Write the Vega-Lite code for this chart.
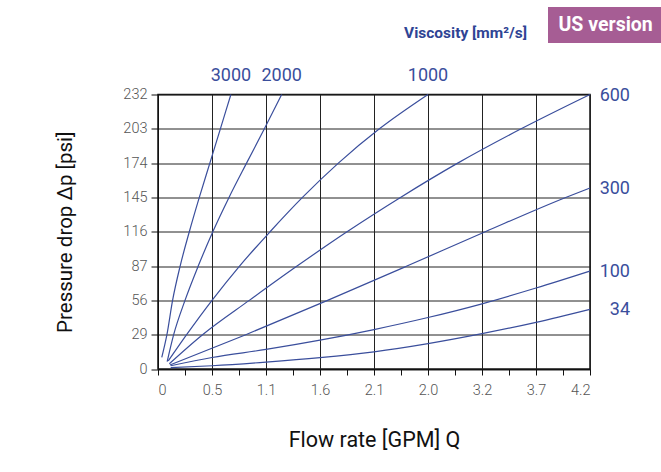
{
  "$schema": "https://vega.github.io/schema/vega-lite/v6.json",
  "width": 432,
  "height": 274.5,
  "autosize": {"type": "none"},
  "padding": {"left": 158, "top": 94.5, "right": 71, "bottom": 103},
  "background": "white",
  "title": {
    "text": "Viscosity [mm²/s]",
    "anchor": "end",
    "frame": "group",
    "dx": -63,
    "dy": 34,
    "offset": 0,
    "font": "Roboto",
    "fontSize": 15.5,
    "fontWeight": "bold",
    "color": "#2f4494"
  },
  "datasets": {
    "curves": [
      {"visc": 3000, "q": 0.14, "p": 0.68},
      {"visc": 3000, "q": 0.33, "p": 2},
      {"visc": 3000, "q": 0.54, "p": 4},
      {"visc": 3000, "q": 0.82, "p": 6},
      {"visc": 3000, "q": 1.16, "p": 8},
      {"visc": 3000, "q": 1.53, "p": 10},
      {"visc": 3000, "q": 1.92, "p": 12},
      {"visc": 3000, "q": 2.31, "p": 14},
      {"visc": 3000, "q": 2.70, "p": 16},
      {"visc": 2000, "q": 0.34, "p": 0.43},
      {"visc": 2000, "q": 0.58, "p": 2},
      {"visc": 2000, "q": 1.0, "p": 4},
      {"visc": 2000, "q": 1.49, "p": 6},
      {"visc": 2000, "q": 2.03, "p": 8},
      {"visc": 2000, "q": 2.63, "p": 10},
      {"visc": 2000, "q": 3.28, "p": 12},
      {"visc": 2000, "q": 3.94, "p": 14},
      {"visc": 2000, "q": 4.58, "p": 16},
      {"visc": 1000, "q": 0.38, "p": 0.47},
      {"visc": 1000, "q": 1.06, "p": 2},
      {"visc": 1000, "q": 2.0, "p": 4},
      {"visc": 1000, "q": 3.02, "p": 6},
      {"visc": 1000, "q": 4.15, "p": 8},
      {"visc": 1000, "q": 5.35, "p": 10},
      {"visc": 1000, "q": 6.68, "p": 12},
      {"visc": 1000, "q": 8.2, "p": 14},
      {"visc": 1000, "q": 10.0, "p": 16},
      {"visc": 600, "q": 0.42, "p": 0.31},
      {"visc": 600, "q": 1.65, "p": 2},
      {"visc": 600, "q": 3.38, "p": 4},
      {"visc": 600, "q": 5.15, "p": 6},
      {"visc": 600, "q": 7.0, "p": 8},
      {"visc": 600, "q": 8.98, "p": 10},
      {"visc": 600, "q": 11.1, "p": 12},
      {"visc": 600, "q": 13.45, "p": 14},
      {"visc": 600, "q": 16, "p": 16},
      {"visc": 300, "q": 0.44, "p": 0.23},
      {"visc": 300, "q": 3.25, "p": 2},
      {"visc": 300, "q": 6.28, "p": 4},
      {"visc": 300, "q": 9.22, "p": 6},
      {"visc": 300, "q": 12.12, "p": 8},
      {"visc": 300, "q": 15.1, "p": 10},
      {"visc": 300, "q": 16, "p": 10.55},
      {"visc": 100, "q": 0.47, "p": 0.19},
      {"visc": 100, "q": 2, "p": 0.67},
      {"visc": 100, "q": 4, "p": 1.14},
      {"visc": 100, "q": 6, "p": 1.68},
      {"visc": 100, "q": 8, "p": 2.3},
      {"visc": 100, "q": 10, "p": 3.0},
      {"visc": 100, "q": 12, "p": 3.8},
      {"visc": 100, "q": 14, "p": 4.72},
      {"visc": 100, "q": 16, "p": 5.71},
      {"visc": 34, "q": 0.47, "p": 0.08},
      {"visc": 34, "q": 2, "p": 0.19},
      {"visc": 34, "q": 4, "p": 0.4},
      {"visc": 34, "q": 6, "p": 0.66},
      {"visc": 34, "q": 8, "p": 1.0},
      {"visc": 34, "q": 10, "p": 1.48},
      {"visc": 34, "q": 12, "p": 2.06},
      {"visc": 34, "q": 14, "p": 2.72},
      {"visc": 34, "q": 16, "p": 3.48}
    ]
  },
  "data": {"name": "curves"},
  "encoding": {
    "x": {
      "field": "q",
      "type": "quantitative",
      "scale": {"domain": [0, 16], "nice": false, "zero": true},
      "axis": {
        "title": "Flow rate [GPM] Q",
        "values": [0, 1, 2, 3, 4, 5, 6, 7, 8, 9, 10, 11, 12, 13, 14, 15, 16],
        "labelExpr": "datum.value % 2 ? '' : ['0','0.5','1.1','1.6','2.1','2.0','3.2','3.7','4.2'][datum.value / 2]",
        "gridOpacity": {"condition": {"test": "datum.value % 2 === 1", "value": 0}, "value": 1},
        "tickSize": 6,
        "labelPadding": 8,
        "titlePadding": 33
      }
    },
    "y": {
      "field": "p",
      "type": "quantitative",
      "scale": {"domain": [0, 16], "nice": false, "zero": true},
      "axis": {
        "title": "Pressure drop Δp [psi]",
        "values": [0, 2, 4, 6, 8, 10, 12, 14, 16],
        "labelExpr": "['0','29','56','87','116','145','174','203','232'][datum.value / 2]",
        "tickSize": 7,
        "labelPadding": 4,
        "titlePadding": 47,
        "titleFontSize": 20.5
      }
    }
  },
  "layer": [
    {
      "mark": {"type": "line", "strokeWidth": 1.2, "interpolate": "monotone"},
      "encoding": {
        "detail": {"field": "visc", "type": "nominal"},
        "color": {
          "datum": "US version",
          "scale": {"range": ["#3a4e9c"]},
          "legend": {
            "orient": "none",
            "legendX": 390,
            "legendY": -87.5,
            "title": null,
            "fillColor": "#a65d94",
            "padding": 8,
            "labelColor": "white",
            "labelFont": "Roboto",
            "labelFontSize": 19.5,
            "labelFontWeight": "bold",
            "symbolType": "circle",
            "symbolOpacity": 0,
            "symbolSize": 0,
            "symbolStrokeWidth": 0,
            "labelOffset": -17
          }
        }
      }
    },
    {
      "transform": [
        {"joinaggregate": [{"op": "max", "field": "q", "as": "maxq"}], "groupby": ["visc"]},
        {"filter": "datum.q === datum.maxq && datum.visc >= 1000"}
      ],
      "mark": {"type": "text", "dy": -19, "align": "center", "baseline": "middle", "font": "Roboto", "fontSize": 18, "color": "#3a4e9c"},
      "encoding": {"text": {"field": "visc", "type": "nominal"}}
    },
    {
      "transform": [
        {"joinaggregate": [{"op": "max", "field": "q", "as": "maxq"}], "groupby": ["visc"]},
        {"filter": "datum.q === datum.maxq && datum.visc < 1000"}
      ],
      "mark": {"type": "text", "dx": 40, "dy": 1, "align": "right", "baseline": "middle", "font": "Roboto", "fontSize": 18, "color": "#3a4e9c"},
      "encoding": {"text": {"field": "visc", "type": "nominal"}}
    }
  ],
  "config": {
    "view": {"stroke": "#111", "strokeWidth": 1.5},
    "axis": {
      "grid": true,
      "gridColor": "#222",
      "gridWidth": 1,
      "domainColor": "#111",
      "tickColor": "#111",
      "labelFont": "Roboto",
      "labelFontWeight": 300,
      "labelFontSize": 14.5,
      "labelColor": "#555",
      "titleFont": "Roboto",
      "titleFontSize": 21.5,
      "titleFontWeight": "normal",
      "titleColor": "#111"
    },
    "legend": {"strokeColor": null}
  }
}
